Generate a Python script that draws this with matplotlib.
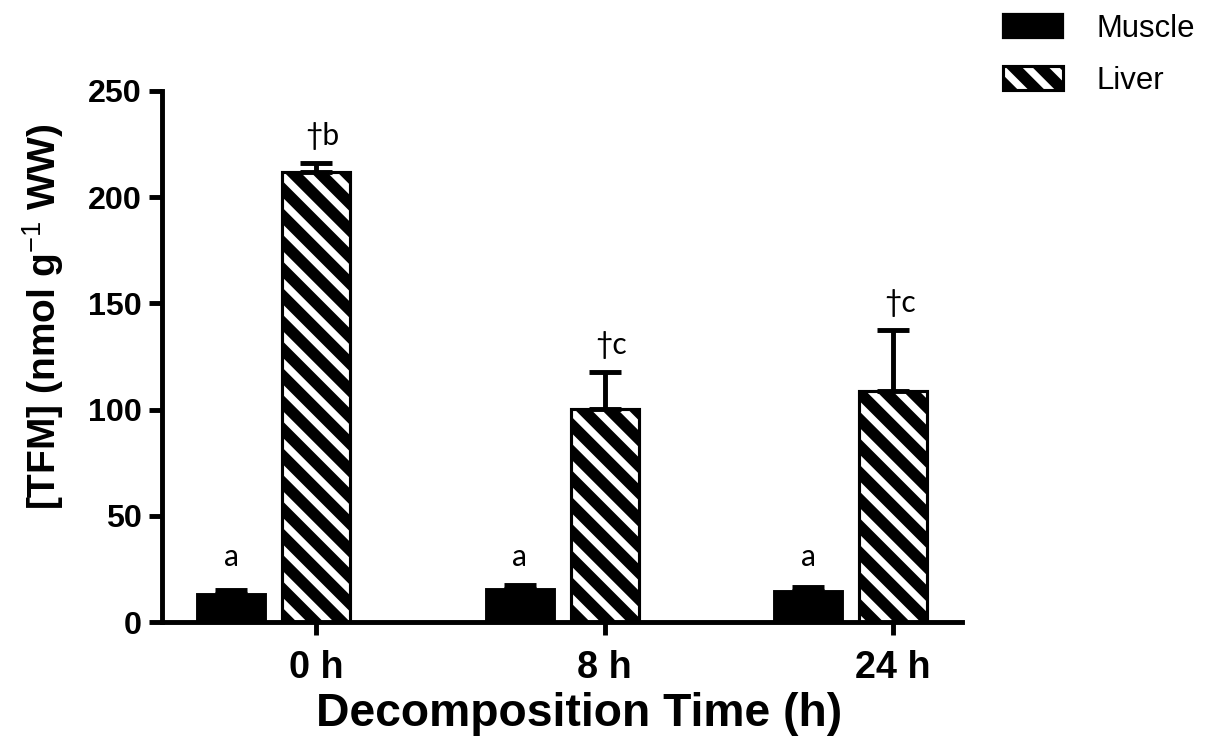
import matplotlib
matplotlib.use("Agg")
import matplotlib.pyplot as plt
from matplotlib.patches import Patch
import numpy as np

# ---- data ----
times = ["0 h", "8 h", "24 h"]
muscle = [13.0, 15.5, 14.7]
muscle_err = [2.0, 2.0, 2.0]
liver = [212.0, 100.3, 108.9]
liver_err = [4.0, 17.5, 28.8]
muscle_labels = ["a", "a", "a"]
liver_labels = ["\u2020b", "\u2020c", "\u2020c"]

DPI = 160
plt.rcParams['font.family'] = ['Liberation Sans', 'DejaVu Sans']
plt.rcParams['hatch.linewidth'] = 3.3
plt.rcParams['mathtext.fontset'] = 'custom'
plt.rcParams['mathtext.rm'] = 'Liberation Sans'
plt.rcParams['mathtext.bf'] = 'Liberation Sans:bold'

fig = plt.figure(figsize=(1232 / DPI, 753 / DPI), dpi=DPI)
ax = fig.add_axes([162 / 1232, 1 - 622 / 753, 800 / 1232, 531 / 753])

x = np.arange(len(times))
w = 0.236
off = 0.294
HATCH = '\\\\'

# muscle bars (solid black)
ax.bar(x - off, muscle, w, color='black', edgecolor='black', linewidth=1.3, zorder=2)
ax.errorbar(x - off, muscle, yerr=[np.zeros(3), muscle_err], fmt='none', ecolor='black',
            elinewidth=2.2, capsize=7.2, capthick=2.2, zorder=3)

# liver bars (white diagonal stripes on black)
ax.bar(x, liver, w, color='black', edgecolor='white', hatch=HATCH, linewidth=0, zorder=2)
ax.bar(x, liver, w, fill=False, edgecolor='black', linewidth=1.4, zorder=2.5)
ax.errorbar(x, liver, yerr=[np.zeros(3), liver_err], fmt='none', ecolor='black',
            elinewidth=2.2, capsize=7.2, capthick=2.2, zorder=3)

ann_font = dict(family=['Lato', 'DejaVu Sans'], fontsize=13.5)
a_level = max(m + e for m, e in zip(muscle, muscle_err))
for xi, t in zip(x - off, muscle_labels):
    ax.annotate(t, (xi, a_level), xytext=(0, 8.5), textcoords='offset points',
                ha='center', va='baseline', **ann_font)
for xi, v, e, t in zip(x, liver, liver_err, liver_labels):
    ax.annotate(t, (xi, v + e), xytext=(3, 8), textcoords='offset points',
                ha='center', va='baseline', **ann_font)

ax.set_xlim(-0.534, 2.239)
ax.set_ylim(0, 250)
ax.set_yticks([0, 50, 100, 150, 200, 250])
ax.set_xticks(x)
ax.set_xticklabels(times)

for s in ['top', 'right']:
    ax.spines[s].set_visible(False)
for s in ['left', 'bottom']:
    ax.spines[s].set_linewidth(2.2)

ax.tick_params(axis='y', direction='out', length=6, width=2.2, pad=3, labelsize=14.5)
ax.tick_params(axis='x', direction='out', length=6, width=2.2, pad=6.5, labelsize=17)
for lbl in ax.get_xticklabels() + ax.get_yticklabels():
    lbl.set_fontweight('bold')

ax.set_xlabel('Decomposition Time (h)', fontsize=20.8, fontweight='bold', labelpad=3)
ax.xaxis.label.set_x(0.521)
ax.set_ylabel(r'[TFM] (nmol g$^{-1}$ WW)', fontsize=17.5, fontweight='bold', labelpad=10)
ax.yaxis.label.set_y(0.574)

# legend
h_muscle = Patch(facecolor='black', edgecolor='black', linewidth=1.0)
h_liver = (Patch(facecolor='black', edgecolor='white', hatch=HATCH, linewidth=0),
           Patch(fill=False, edgecolor='black', linewidth=1.4))
fig.legend([h_muscle, h_liver], ['Muscle', 'Liver'], loc='upper left',
           bbox_to_anchor=(1003 / 1232, 1 - 14 / 753), frameon=False, fontsize=14,
           handlelength=1.93, handleheight=0.78, handletextpad=1.08, labelspacing=0.7,
           borderpad=0, borderaxespad=0)

fig.savefig('out.png', dpi=DPI)
